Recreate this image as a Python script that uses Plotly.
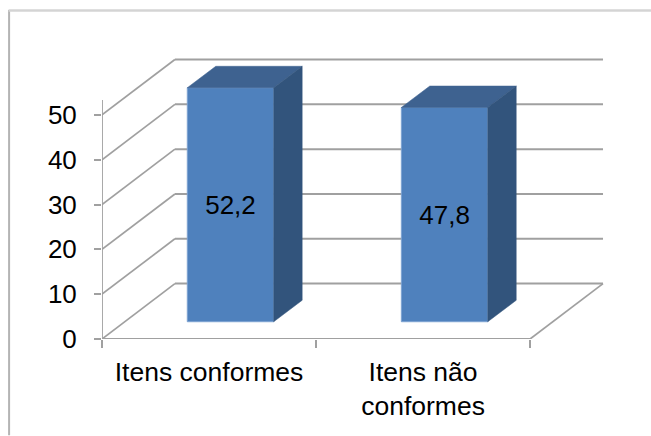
import plotly.graph_objects as go

categories = ["Itens conformes", "Itens não<br>conformes"]
values = [52.2, 47.8]
y_ticks = [0, 10, 20, 30, 40, 50]
cat_edges = [0, 1, 2]

PX_X = 214.25   # px per category
PX_Y = 4.49     # px per value unit
W, H = 651, 436
LEFT, BOTTOM_Y = 101.5, 339.5
TOP_Y, RIGHT_X = 50, 610

# depth of the floor, in axis units
DX = 73 / PX_X
DY = 55.5 / PX_Y
# bar placement
BAR_W = 86.5 / PX_X
BAR_SHIFT_X = (186.5 - LEFT - 63.5) / PX_X
BAR_BASE = 17.3 / PX_Y
BAR_DX = 28.5 / PX_X
BAR_DY = 21.5 / PX_Y

GRID = "#a0a0a0"
FRONT = "#4f81bd"
TOP = "#3e6290"
SIDE = "#32547c"

x_max = (RIGHT_X - LEFT) / PX_X
y_max = (BOTTOM_Y - TOP_Y) / PX_Y
centers = [i + 0.5 + BAR_SHIFT_X for i in range(len(values))]

shapes = []
for v in y_ticks:
    shapes.append(dict(type="line", layer="below", xref="x", yref="y", x0=0, y0=v, x1=DX, y1=v + DY,
                       line=dict(color=GRID, width=1.7)))
    shapes.append(dict(type="line", layer="below", xref="x", yref="y", x0=DX, y0=v + DY, x1=cat_edges[-1] + DX, y1=v + DY,
                       line=dict(color=GRID, width=2)))
shapes.append(dict(type="line", layer="below", xref="x", yref="y", x0=cat_edges[-1], y0=0, x1=cat_edges[-1] + DX, y1=DY,
                   line=dict(color=GRID, width=1.7)))
# outer chart frame
to_px = lambda px: (px - LEFT) / (RIGHT_X - LEFT)
to_py = lambda py: (BOTTOM_Y - py) / (BOTTOM_Y - TOP_Y)
shapes.append(dict(type="line", xref="paper", yref="paper", x0=to_px(8.5), x1=to_px(8.5), y0=to_py(10), y1=to_py(436),
                   line=dict(color="#b4b4b4", width=2)))
shapes.append(dict(type="line", xref="paper", yref="paper", x0=to_px(8), x1=to_px(651), y0=to_py(10.5), y1=to_py(10.5),
                   line=dict(color="#d4d4d4", width=2.5)))

fig = go.Figure()
fig.add_trace(go.Bar(
    x=centers, y=values, base=BAR_BASE, width=BAR_W,
    marker=dict(color=FRONT, line=dict(color="#7da3d2", width=1)),
    text=[f"{v:.1f}".replace(".", ",") for v in values],
    textposition="inside", insidetextanchor="middle", textangle=0,
    textfont=dict(family="Liberation Sans", size=26, color="black"),
    hoverinfo="skip", showlegend=False,
))
for c, v in zip(centers, values):
    l, r = c - BAR_W / 2, c + BAR_W / 2
    t = v + BAR_BASE
    fig.add_trace(go.Scatter(
        x=[l, r, r + BAR_DX, l + BAR_DX, l], y=[t, t, t + BAR_DY, t + BAR_DY, t],
        mode="lines", fill="toself", fillcolor=TOP, line=dict(color=TOP, width=0.5),
        hoverinfo="skip", showlegend=False))
    fig.add_trace(go.Scatter(
        x=[r, r + BAR_DX, r + BAR_DX, r, r],
        y=[BAR_BASE, BAR_BASE + BAR_DY, t + BAR_DY, t, BAR_BASE],
        mode="lines", fill="toself", fillcolor=SIDE, line=dict(color=SIDE, width=0.5),
        hoverinfo="skip", showlegend=False))
# axis lines that stop short of the plot edge
fig.add_trace(go.Scatter(x=[0, 0], y=[0, 53.3], mode="lines", cliponaxis=False,
                         line=dict(color=GRID, width=1.8), hoverinfo="skip", showlegend=False))
fig.add_trace(go.Scatter(x=[0, cat_edges[-1]], y=[0, 0], mode="lines", cliponaxis=False,
                         line=dict(color=GRID, width=1.8), hoverinfo="skip", showlegend=False))

fig.update_layout(
    width=W, height=H, autosize=False, paper_bgcolor="white", plot_bgcolor="rgba(0,0,0,0)",
    margin=dict(l=LEFT, r=W - RIGHT_X, t=TOP_Y, b=H - BOTTOM_Y, pad=0, autoexpand=False),
    shapes=shapes, font=dict(family="Liberation Sans", size=26, color="black"),
    xaxis=dict(range=[0, x_max], showgrid=False, zeroline=False, showline=False,
               tickmode="array", tickvals=[0.5, 1.5], ticktext=categories, ticks="",
               ticklabelstandoff=14, tickfont=dict(size=26.5),
               minor=dict(tickmode="array", tickvals=cat_edges, ticks="outside", ticklen=8,
                          tickcolor=GRID, tickwidth=1.5, showgrid=False)),
    yaxis=dict(range=[0, y_max], showgrid=False, zeroline=False, showline=False,
               tickmode="array", tickvals=y_ticks, ticks="outside", ticklen=7,
               tickcolor=GRID, tickwidth=1.5, ticklabelstandoff=12),
)
fig.write_html("out.html", config=dict(displayModeBar=False),
               post_script="document.body.style.margin='0';")
